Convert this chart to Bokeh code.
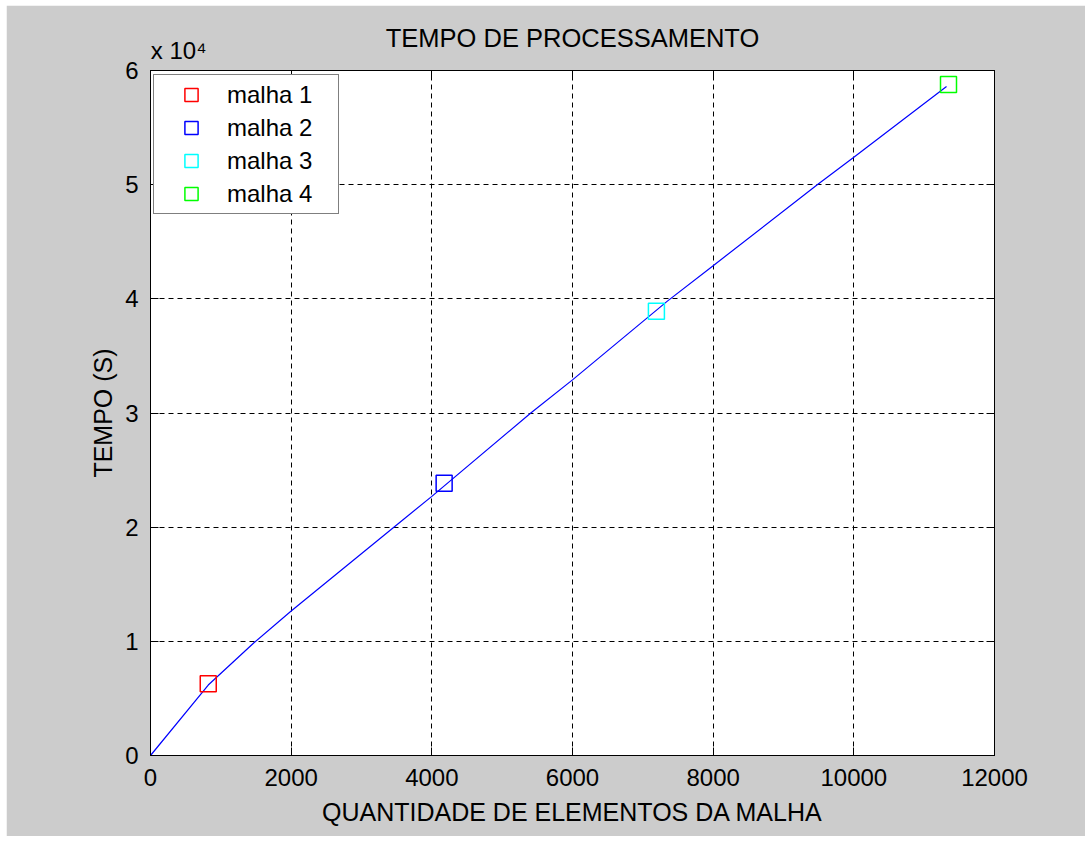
from bokeh.plotting import figure
from bokeh.models import (Range1d, FixedTicker, LinearAxis, Legend, LegendItem)
from bokeh.embed import file_html
from bokeh.resources import INLINE

# Measured meshes: number of elements vs processing time (s)
mesh_names = ["malha 1", "malha 2", "malha 3", "malha 4"]
mesh_elements = [821, 4175, 7193, 11346]
mesh_time = [6280, 23850, 38920, 58770]
mesh_colors = ["#ff0000", "#0000ff", "#00ffff", "#00ff00"]

# Trend curve through the measurements
trend_x = [0, 821, 1475, 2000, 3460, 4000, 5407, 6000, 7349, 8000, 9480, 10000, 11318]
trend_y = [0, 6170, 9900, 12650, 20000, 22700, 30000, 32900, 39800, 42900, 50000, 52400, 58600]

x_ticks = [0, 2000, 4000, 6000, 8000, 10000, 12000]
y_ticks = [0, 10000, 20000, 30000, 40000, 50000, 60000]
y_tick_labels = ["0", "1", "2", "3", "4", "5", "6"]
y_scale_note = "x 10\u2074"
y_scale_note_x = 400   # where the note sits along the top edge

FONT = "Liberation Sans"
BG = "#cccccc"

p = figure(width=1079, height=831, output_backend="svg", toolbar_location=None,
           x_range=Range1d(0, 12000), y_range=Range1d(0, 60000),
           min_border_left=144, min_border_right=91, min_border_top=65, min_border_bottom=81,
           background_fill_color="white", border_fill_color=BG,
           title="TEMPO DE PROCESSAMENTO")
p.margin = (5, 6, 5, 6)

p.title.align = "center"
p.title.text_font = FONT
p.title.text_font_size = "25.5px"
p.title.text_font_style = "normal"
p.title.text_color = "black"
p.title.standoff = -37

p.outline_line_color = "black"
p.outline_line_width = 1

def style_axis(ax, ticks, show_labels):
    ax.ticker = FixedTicker(ticks=ticks)
    ax.major_tick_in = 8
    ax.major_tick_out = 0
    ax.minor_tick_line_color = None
    ax.major_tick_line_color = "black"
    ax.axis_line_color = "black"
    ax.major_label_text_font = FONT
    ax.major_label_text_color = "black"
    if show_labels:
        ax.major_label_text_font_size = "24px"
    else:
        # tick marks only, no numbers
        ax.major_label_text_font_size = "1px"
        ax.major_label_standoff = 0
        ax.major_label_overrides = {t: "" for t in ticks}

xa = p.xaxis[0]
ya = p.yaxis[0]
style_axis(xa, x_ticks, True)
style_axis(ya, y_ticks, True)
xa.major_label_standoff = 13
ya.major_label_standoff = 12
ya.major_label_overrides = {t: s for t, s in zip(y_ticks, y_tick_labels)}

xa.axis_label = "QUANTIDADE DE ELEMENTOS DA MALHA"
ya.axis_label = "TEMPO (S)"
for ax in (xa, ya):
    ax.axis_label_text_font = FONT
    ax.axis_label_text_font_size = "25px"
    ax.axis_label_text_font_style = "normal"
    ax.axis_label_text_color = "black"
xa.axis_label_standoff = 9
ya.axis_label_standoff = 5

# box ticks on the top and right edges
top_axis = LinearAxis()
right_axis = LinearAxis()
style_axis(top_axis, x_ticks, False)
style_axis(right_axis, y_ticks, False)
p.add_layout(top_axis, "above")
p.add_layout(right_axis, "right")

# scale factor of the y values, written above the top-left corner
note_axis = LinearAxis()
note_axis.ticker = FixedTicker(ticks=[y_scale_note_x])
note_axis.major_tick_in = 0
note_axis.major_tick_out = 0
note_axis.minor_tick_line_color = None
note_axis.axis_line_color = None
note_axis.major_label_standoff = 7
note_axis.major_label_text_font = FONT
note_axis.major_label_text_font_size = "24px"
note_axis.major_label_text_color = "black"
note_axis.major_label_overrides = {y_scale_note_x: y_scale_note}
p.add_layout(note_axis, "above")

for g in (p.xgrid[0], p.ygrid[0]):
    g.grid_line_color = "black"
    g.grid_line_dash = "5 4"
    g.grid_line_width = 1
    g.grid_line_alpha = 1.0
p.xgrid[0].ticker = FixedTicker(ticks=x_ticks)
p.ygrid[0].ticker = FixedTicker(ticks=y_ticks)

# trend curve
p.line(trend_x, trend_y, line_color="#0000ff", line_width=1.2)

# one square marker per mesh
items = []
for name, xv, yv, c in zip(mesh_names, mesh_elements, mesh_time, mesh_colors):
    r = p.scatter([xv], [yv], marker="square", size=16, fill_color=None,
                  line_color=c, line_width=1.5)
    items.append(LegendItem(label=name, renderers=[r]))

legend = Legend(items=items, location=(3, 541))
legend.padding = 3
legend.spacing = 0
legend.margin = 0
legend.glyph_height = 33
legend.glyph_width = 68
legend.label_height = 33
legend.label_standoff = 2
legend.label_width = 108
legend.label_text_font = FONT
legend.label_text_font_size = "24px"
legend.label_text_color = "black"
legend.border_line_color = "black"
legend.border_line_width = 1
legend.background_fill_color = "white"
legend.background_fill_alpha = 1.0
p.add_layout(legend, "center")

open("out.html", "w").write(file_html(p, INLINE))
